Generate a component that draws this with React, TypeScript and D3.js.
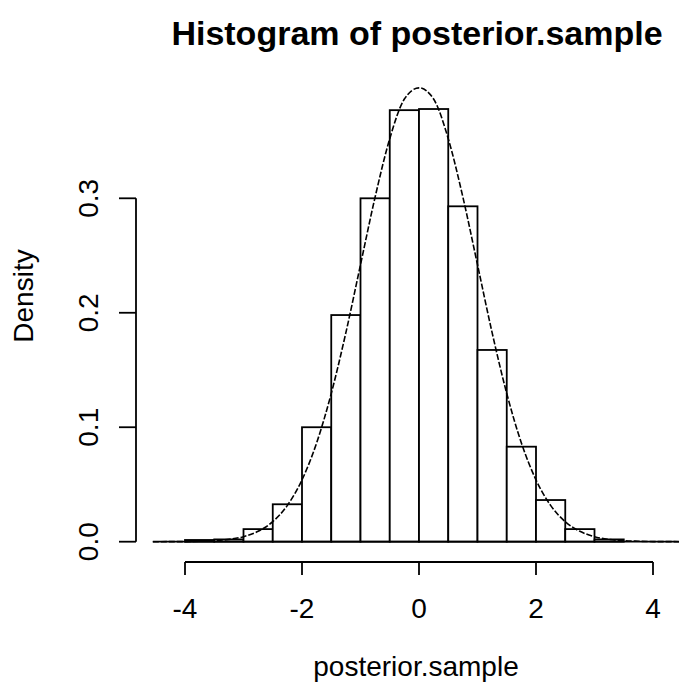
import React from "react";
import * as d3 from "d3";

const binStarts = [-4, -3.5, -3, -2.5, -2, -1.5, -1, -0.5, 0, 0.5, 1, 1.5, 2, 2.5, 3];
const binWidth = 0.5;
const densities = [0.0015, 0.002, 0.011, 0.0327, 0.1, 0.198, 0.3, 0.377, 0.378, 0.293, 0.1675, 0.083, 0.0364, 0.011, 0.002];

const curveX = [-4.55, -4.25, -4, -3.75, -3.5, -3.25, -3, -2.75, -2.5, -2.25, -2, -1.75, -1.5, -1.25, -1, -0.75, -0.5, -0.25, 0, 0.25, 0.5, 0.75, 1, 1.25, 1.5, 1.75, 2, 2.25, 2.5, 2.75, 3, 3.25, 3.5, 3.75, 4, 4.25, 4.55];
const curveY = [0, 0.00005, 0.0001, 0.0004, 0.0009, 0.002, 0.0044, 0.0091, 0.0175, 0.0317, 0.054, 0.0863, 0.1295, 0.1826, 0.242, 0.3011, 0.3521, 0.3867, 0.3965, 0.3867, 0.3521, 0.3011, 0.242, 0.1826, 0.1295, 0.0863, 0.054, 0.0317, 0.0175, 0.0091, 0.0044, 0.002, 0.0009, 0.0004, 0.0001, 0.00005, 0];

const xTicks = [-4, -2, 0, 2, 4];
const yTicks = [0, 0.1, 0.2, 0.3];

const title = "Histogram of posterior.sample";
const xLabel = "posterior.sample";
const yLabel = "Density";

export default function App() {
  const W = 679;
  const H = 694;
  const x = d3.scaleLinear().domain([-4, 4]).range([185, 653]);
  const y = d3.scaleLinear().domain([0, 0.3]).range([541.7, 198.3]);
  const font = "'Liberation Sans', Arial, Helvetica, sans-serif";
  const sw = 1.8;

  const line = d3
    .line<number>()
    .x((_, i) => x(curveX[i]))
    .y((d) => y(d))
    .curve(d3.curveMonotoneX);

  const axisY = 562;
  const yAxisX = 136;

  return (
    <div style={{ position: "absolute", left: 0, top: 0 }}>
      <svg width={W} height={H} style={{ display: "block", background: "#fff" }}>
        <text x={x(0) - 2} y={45} textAnchor="middle" fontFamily={font} fontWeight="bold" fontSize={34}>
          {title}
        </text>

        {/* bars */}
        {binStarts.map((b, i) => (
          <rect
            key={i}
            x={x(b)}
            y={y(densities[i])}
            width={x(b + binWidth) - x(b)}
            height={y(0) - y(densities[i])}
            fill="#fff"
            stroke="#000"
            strokeWidth={sw}
          />
        ))}

        {/* zero line */}
        <line x1={x(-4.55)} x2={W} y1={y(0)} y2={y(0)} stroke="#000" strokeWidth={sw} />

        {/* density curve */}
        <path d={line(curveY) || ""} fill="none" stroke="#000" strokeWidth={1.6} strokeDasharray="6,2" />

        {/* x axis */}
        <line x1={x(-4)} x2={x(4)} y1={axisY} y2={axisY} stroke="#000" strokeWidth={sw} />
        {xTicks.map((t) => (
          <g key={t}>
            <line x1={x(t)} x2={x(t)} y1={axisY} y2={axisY + 13} stroke="#000" strokeWidth={sw} />
            <text x={x(t)} y={618} textAnchor="middle" fontFamily={font} fontSize={28}>
              {t < 0 ? "-" + Math.abs(t) : String(t)}
            </text>
          </g>
        ))}
        <text x={x(0) - 3} y={676} textAnchor="middle" fontFamily={font} fontSize={28}>
          {xLabel}
        </text>

        {/* y axis */}
        <line x1={yAxisX} x2={yAxisX} y1={y(0)} y2={y(0.3)} stroke="#000" strokeWidth={sw} />
        {yTicks.map((t) => (
          <g key={t}>
            <line x1={yAxisX - 17} x2={yAxisX} y1={y(t)} y2={y(t)} stroke="#000" strokeWidth={sw} />
            <text
              transform={`translate(98,${y(t)}) rotate(-90)`}
              textAnchor="middle"
              fontFamily={font}
              fontSize={28}
            >
              {t.toFixed(1)}
            </text>
          </g>
        ))}
        <text transform={`translate(33,296) rotate(-90)`} textAnchor="middle" fontFamily={font} fontSize={28}>
          {yLabel}
        </text>
      </svg>
    </div>
  );
}
